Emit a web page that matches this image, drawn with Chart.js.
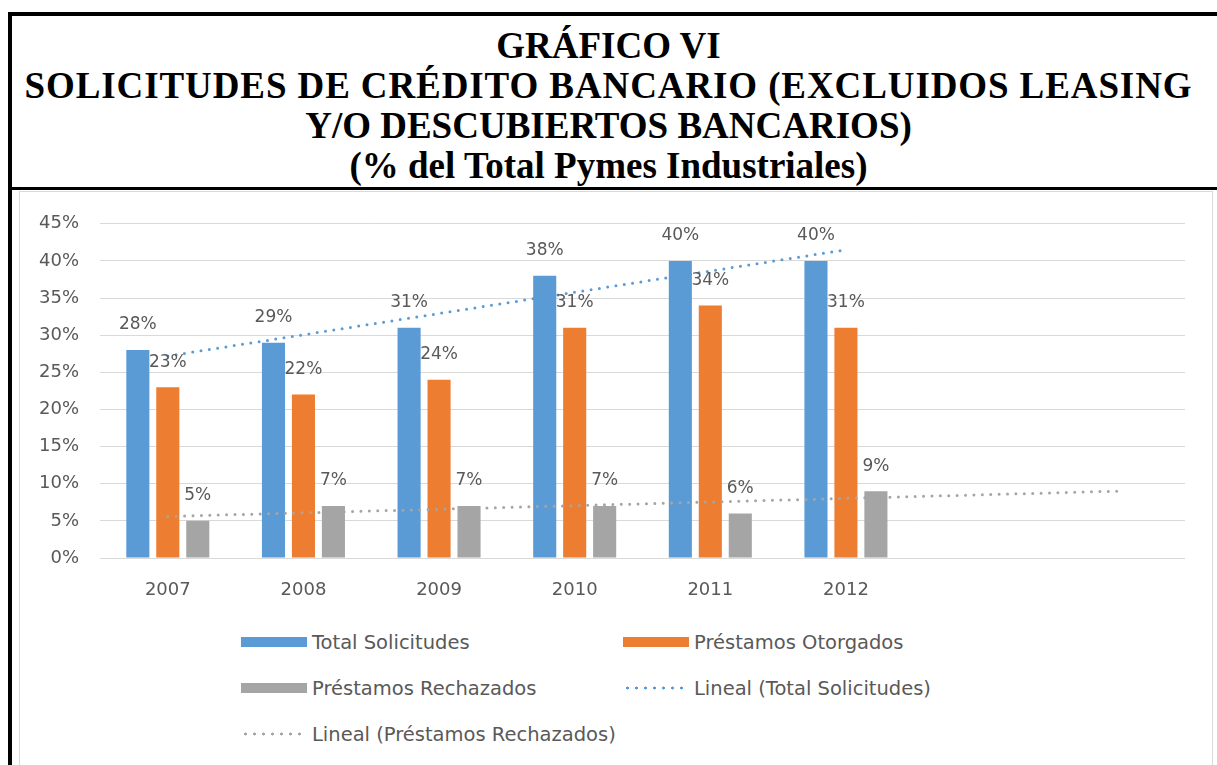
<!DOCTYPE html>
<html lang="es">
<head>
<meta charset="utf-8">
<title>Gráfico VI</title>
<script src="https://cdn.jsdelivr.net/npm/chart.js@4.4.0/dist/chart.umd.min.js"></script>
<style>
  html, body { margin: 0; padding: 0; background: #fff; }
  body { position: relative; width: 1217px; height: 765px; overflow: hidden; }
  .rule { position: absolute; background: #000; }
  .title {
    position: absolute; left: 12px; top: 16px; width: 1193px; height: 171px;
    box-sizing: border-box; padding-top: 10px;
    font: bold 37px "Liberation Serif", "Times New Roman", serif;
    line-height: 40px; text-align: center; white-space: nowrap; color: #000;
  }
  .title .wide { letter-spacing: 0.9px; }
  .panel {
    position: absolute; left: 19px; top: 191px; width: 1192px; height: 600px;
    border: 1px solid #d9d9d9; background: #fff;
  }
  #chart { position: absolute; left: 0; top: 0; }
  #legend {
    position: absolute; left: 221px; top: 427px;
    display: grid; grid-template-columns: 382px auto; grid-auto-rows: 46px;
    font: 19.5px "DejaVu Sans", sans-serif; color: #595959;
  }
  .item { display: flex; align-items: center; }
  .swatch { width: 66px; height: 10px; margin-right: 5px; }
</style>
</head>
<body>
<div class="rule" style="left:8px;top:12px;width:4px;height:753px"></div>
<div class="rule" style="left:8px;top:12px;width:1209px;height:4px"></div>
<div class="rule" style="left:8px;top:187px;width:1209px;height:3px"></div>
<div class="title">GRÁFICO VI<br><span class="wide">SOLICITUDES DE CRÉDITO BANCARIO (EXCLUIDOS LEASING</span><br>Y/O DESCUBIERTOS BANCARIOS)<br>(% del Total Pymes Industriales)</div>
<div class="panel">
  <canvas id="chart" width="1192" height="420"></canvas>
  <div id="legend"></div>
</div>
<script>
// two empty slots after 2012 leave room for the trend forecast
const years = ['2007', '2008', '2009', '2010', '2011', '2012', '', ''];
const totalSolicitudes = [28, 29, 31, 38, 40, 40];
const prestamosOtorgados = [23, 22, 24, 31, 34, 31];
const prestamosRechazados = [5, 7, 7, 7, 6, 9];
// linear trends: only the end points, the line joins them
const lineaTotal = [27.2, null, null, null, null, 41.5];
const lineaRechazados = [5.6, null, null, null, null, null, null, 9.0];
const yMax = 45;
const yStep = 5;

const AZUL = '#5b9bd5';
const NARANJA = '#ed7d31';
const GRIS = '#a5a5a5';
const TEXTO = '#595959';
const FONT = '"DejaVu Sans", sans-serif';

const trend = (label, data, color) => ({
  type: 'line',
  label,
  data,
  borderColor: color,
  borderWidth: 3,
  borderDash: [0, 8.4],
  borderCapStyle: 'round',
  pointRadius: 0,
  spanGaps: true,
  fill: false,
  order: -1,
});

// percent value above each bar
const barValueLabels = {
  id: 'barValueLabels',
  afterDatasetsDraw(chart) {
    const ctx = chart.ctx;
    ctx.save();
    ctx.font = '17px ' + FONT;
    ctx.fillStyle = TEXTO;
    ctx.textAlign = 'center';
    ctx.textBaseline = 'middle';
    chart.data.datasets.forEach((ds, i) => {
      if (ds.type === 'line') return;
      chart.getDatasetMeta(i).data.forEach((bar, j) => {
        ctx.fillText(ds.data[j] + '%', bar.x, bar.y - 25);
      });
    });
    ctx.restore();
  }
};

const chart = new Chart(document.getElementById('chart'), {
  type: 'bar',
  plugins: [barValueLabels],
  data: {
    labels: years,
    datasets: [
      { label: 'Total Solicitudes', data: totalSolicitudes, backgroundColor: AZUL },
      { label: 'Préstamos Otorgados', data: prestamosOtorgados, backgroundColor: NARANJA },
      { label: 'Préstamos Rechazados', data: prestamosRechazados, backgroundColor: GRIS },
      trend('Lineal (Total Solicitudes)', lineaTotal, AZUL),
      trend('Lineal (Préstamos Rechazados)', lineaRechazados, GRIS),
    ],
  },
  options: {
    responsive: false,
    animation: false,
    categoryPercentage: 0.663,
    barPercentage: 0.77,
    layout: { padding: { top: 28, right: 27, left: 0, bottom: 0 } },
    plugins: {
      legend: { display: false },
      tooltip: { enabled: false },
    },
    scales: {
      x: {
        grid: { display: false },
        border: { display: false },
        ticks: { color: TEXTO, font: { family: FONT, size: 18 }, padding: 14, maxRotation: 0 },
        afterFit: (scale) => { scale.height = 54; },
      },
      y: {
        min: 0,
        max: yMax,
        grid: { color: '#d9d9d9', drawTicks: false },
        border: { display: false },
        ticks: {
          stepSize: yStep,
          color: TEXTO,
          font: { family: FONT, size: 18 },
          padding: 21,
          callback: (v) => v + '%',
        },
        afterFit: (scale) => { scale.width = 80; },
      },
    },
  },
});

// legend in two columns, same order as the datasets
const legend = document.getElementById('legend');
chart.data.datasets.forEach((ds) => {
  const item = document.createElement('div');
  item.className = 'item';
  const swatch = document.createElement('span');
  swatch.className = 'swatch';
  if (ds.type === 'line') {
    swatch.style.background = `radial-gradient(circle, ${ds.borderColor} 1.3px, transparent 1.7px) 0 0 / 9px 10px repeat-x`;
    swatch.style.width = '62px';
    swatch.style.marginRight = '9px';
  } else {
    swatch.style.background = ds.backgroundColor;
  }
  const text = document.createElement('span');
  text.textContent = ds.label;
  item.append(swatch, text);
  legend.appendChild(item);
});
</script>
</body>
</html>
